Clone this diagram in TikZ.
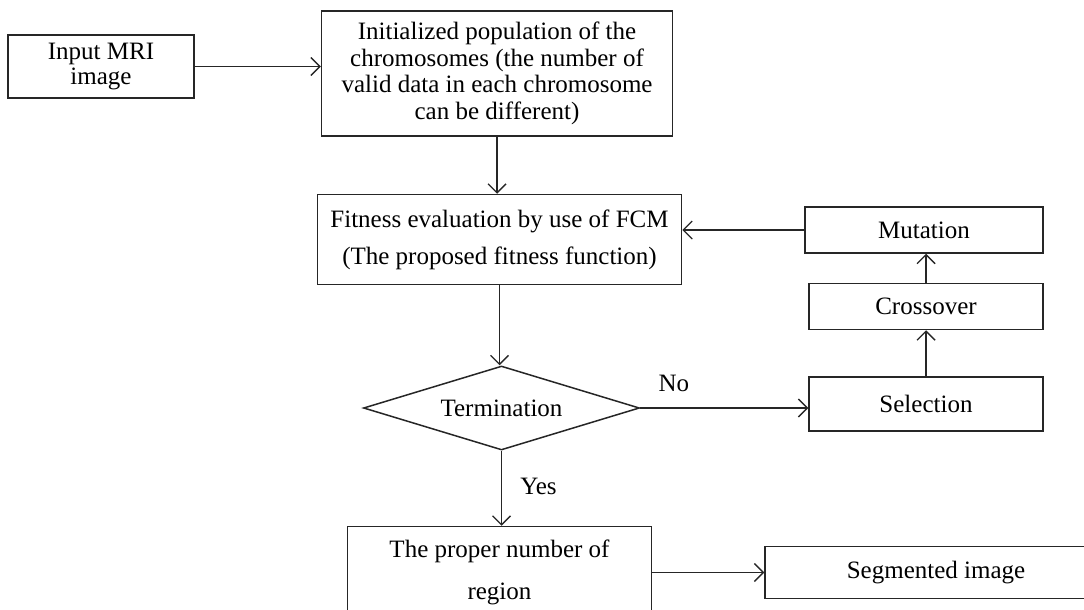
\documentclass[tikz,border=0pt]{standalone}
\usepackage{fontspec}
\setmainfont{Liberation Serif}
\usepackage{tikz}
\usetikzlibrary{shapes.geometric,arrows.meta,positioning}
\definecolor{edge}{HTML}{262626}

\begin{document}
\begin{tikzpicture}[
    x=1pt, y=1pt,
    box/.style={rectangle, draw=edge, line width=1.5pt, inner sep=0pt,
                align=center, font=\fontsize{25}{26.5}\selectfont},
    decision/.style={diamond, draw=edge, line width=1.5pt, inner sep=0pt,
                aspect=3.3, minimum width=276pt, minimum height=84pt,
                font=\fontsize{25}{26.5}\selectfont},
    flow/.style={draw=edge, line width=1.4pt,
                -{Straight Barb[length=9pt,width=18pt]}},
    answer/.style={font=\fontsize{25}{26.5}\selectfont, inner sep=0pt},
]

\useasboundingbox (0,0) rectangle (1084,-610);

\node[box, minimum width=186pt, minimum height=63pt,
      font=\fontsize{25}{25}\selectfont] (input) at (101,-66.5) {Input MRI\\image};
\node[box, right=126pt of input, yshift=-7pt,
      minimum width=351pt, minimum height=125pt] (init)
      {Initialized population of the\\chromosomes (the number of\\valid data in each chromosome\\can be different)};
\node[box, below=57pt of init, xshift=2.5pt,
      minimum width=364pt, minimum height=90pt,
      font=\fontsize{25}{37}\selectfont] (fitness)
      {Fitness evaluation by use of FCM\\(The proposed fitness function)};
\node[decision, below=80pt of fitness, xshift=2pt] (term) {Termination};
\node[box, below=75pt of term, xshift=-2pt,
      minimum width=304pt, minimum height=92pt,
      font=\fontsize{25}{42}\selectfont] (region) {The proper number of\\region};
\node[box, right=112pt of region,
      minimum width=342pt, minimum height=52pt] (segmented) {Segmented image};
\node[box, right=168pt of term, yshift=4pt,
      minimum width=234pt, minimum height=54pt] (selection) {Selection};
\node[box, above=46pt of selection,
      minimum width=234pt, minimum height=46pt] (crossover) {Crossover};
\node[box, above=29pt of crossover, xshift=-2pt,
      minimum width=238pt, minimum height=46pt] (mutation) {Mutation};

% main flow
\draw[flow] (input.east) -- (input.east -| init.west);
\draw[flow] (init.south) -- (init.south |- fitness.north);
\draw[flow] (fitness.south) -- (fitness.south |- term.north);
\draw[flow] (term.south) -- (term.south |- region.north)
      node[answer, pos=0.48, xshift=37pt] {Yes};
\draw[flow] (region.east) -- (segmented.west);

% loop back
\draw[flow] (term.east) -- (term.east -| selection.west)
      node[answer, pos=0.2, yshift=25pt] {No};
\draw[flow] (selection.north) -- (crossover.south);
\draw[flow] (crossover.north) -- (crossover.north |- mutation.south);
\draw[flow] (mutation.west) -- (mutation.west -| fitness.east);

\end{tikzpicture}
\end{document}
